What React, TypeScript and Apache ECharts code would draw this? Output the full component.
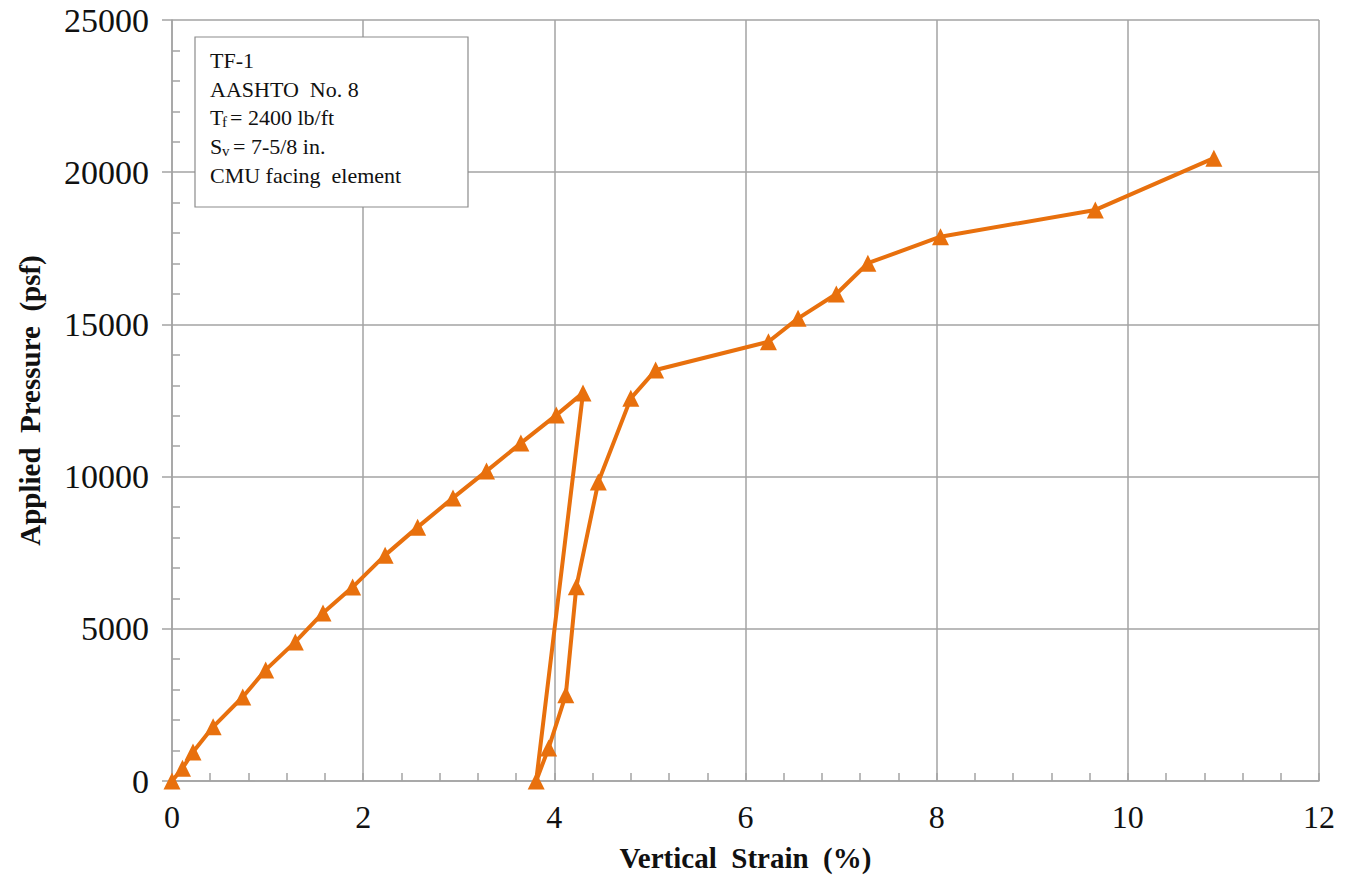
import React, { useEffect, useRef } from "react";
import * as echarts from "echarts";

const strain: number[] = [0, 0.11, 0.22, 0.43, 0.74, 0.98, 1.29, 1.58, 1.89, 2.23, 2.57, 2.94, 3.29, 3.65, 4.02, 4.30, 3.81, 3.94, 4.12, 4.23, 4.46, 4.80, 5.06, 6.24, 6.55, 6.95, 7.28, 8.04, 9.66, 10.90];
const pressure: number[] = [0, 420, 950, 1780, 2760, 3650, 4570, 5520, 6370, 7420, 8340, 9300, 10180, 11100, 12020, 12750, 0, 1080, 2830, 6380, 9820, 12570, 13500, 14430, 15200, 16000, 17010, 17880, 18760, 20460];

const xTicks = { min: 0, max: 12, interval: 2 };
const yTicks = { min: 0, max: 25000, interval: 5000 };

const noteLines: string[] = ["TF-1", "AASHTO  No. 8", "", "", "CMU facing  element"];

const FONT = "'Liberation Serif', 'Times New Roman', serif";
const ORANGE = "#E8700D";
const GRID = "#a3a3a3";

export default function App() {
  const ref = useRef<HTMLDivElement>(null);
  useEffect(() => {
    if (!ref.current) return;
    const chart = echarts.init(ref.current, undefined, { renderer: "svg" });
    const data = strain.map((x, i) => [x, pressure[i]]);
    const txt = (x: number, y: number, text: string, size = 22) => ({
      type: "text",
      x,
      y,
      style: { text, fontFamily: FONT, fontSize: size, fill: "#111", textVerticalAlign: "middle" },
      z: 10,
    });
    const lineY = [60, 89, 117, 146, 175];
    chart.setOption({
      animation: false,
      backgroundColor: "#fff",
      grid: { left: 172, right: 37, top: 20, bottom: 107, containLabel: false },
      xAxis: [
        {
          type: "value",
          ...xTicks,
          name: "Vertical  Strain  (%)",
          nameLocation: "middle",
          nameGap: 62,
          nameTextStyle: { fontFamily: FONT, fontSize: 29, fontWeight: "bold", color: "#111" },
          axisLine: { show: true, onZero: false, lineStyle: { color: GRID, width: 1.5 } },
          axisTick: { show: false },
          axisLabel: { fontFamily: FONT, fontSize: 32, color: "#111", margin: 20, formatter: (v: number) => String(v) },
          splitLine: { show: true, lineStyle: { color: GRID, width: 1.5 } },
        },
        {
          type: "value",
          ...xTicks,
          position: "bottom",
          axisLine: { show: false },
          axisTick: { show: true, inside: true, length: 8, lineStyle: { color: GRID, width: 1.5 } },
          minorTick: { show: true, splitNumber: 5, length: 8, lineStyle: { color: GRID, width: 1.5 } },
          axisLabel: { show: false },
          splitLine: { show: false },
        },
      ],
      yAxis: [
        {
          type: "value",
          ...yTicks,
          name: "Applied  Pressure  (psf)",
          nameLocation: "middle",
          nameGap: 128,
          nameTextStyle: { fontFamily: FONT, fontSize: 29, fontWeight: "bold", color: "#111" },
          axisLine: { show: true, onZero: false, lineStyle: { color: GRID, width: 1.5 } },
          axisTick: { show: true, inside: false, length: 10, lineStyle: { color: GRID, width: 1.5 } },
          axisLabel: { fontFamily: FONT, fontSize: 34, color: "#111", margin: 23, formatter: (v: number) => String(v) },
          splitLine: { show: true, lineStyle: { color: GRID, width: 1.5 } },
        },
        {
          type: "value",
          ...yTicks,
          position: "left",
          axisLine: { show: false },
          axisTick: { show: false, inside: true, length: 8 },
          minorTick: { show: true, splitNumber: 5, length: 8, lineStyle: { color: GRID, width: 1.5 } },
          axisLabel: { show: false },
          splitLine: { show: false },
        },
      ],
      series: [
        {
          type: "line",
          data,
          xAxisIndex: 0,
          yAxisIndex: 0,
          symbol: "triangle",
          symbolSize: 17,
          lineStyle: { color: ORANGE, width: 4 },
          itemStyle: { color: ORANGE },
          z: 5,
        },
      ],
      graphic: [
        {
          type: "rect",
          shape: { x: 195, y: 37, width: 273, height: 170 },
          style: { fill: "#fff", stroke: "#8c8c8c", lineWidth: 1.2 },
          z: 9,
        },
        txt(210, lineY[0], noteLines[0]),
        txt(210, lineY[1], noteLines[1]),
        txt(210, lineY[2], "T"),
        txt(222, lineY[2] + 5, "f", 15),
        txt(230, lineY[2], "= 2400 lb/ft"),
        txt(210, lineY[3], "S"),
        txt(222, lineY[3] + 5, "v", 15),
        txt(233, lineY[3], "= 7-5/8 in."),
        txt(210, lineY[4], noteLines[4]),
      ],
    });
    return () => chart.dispose();
  }, []);
  return <div ref={ref} style={{ position: "absolute", left: 0, top: 0, width: 1356, height: 888 }} />;
}
